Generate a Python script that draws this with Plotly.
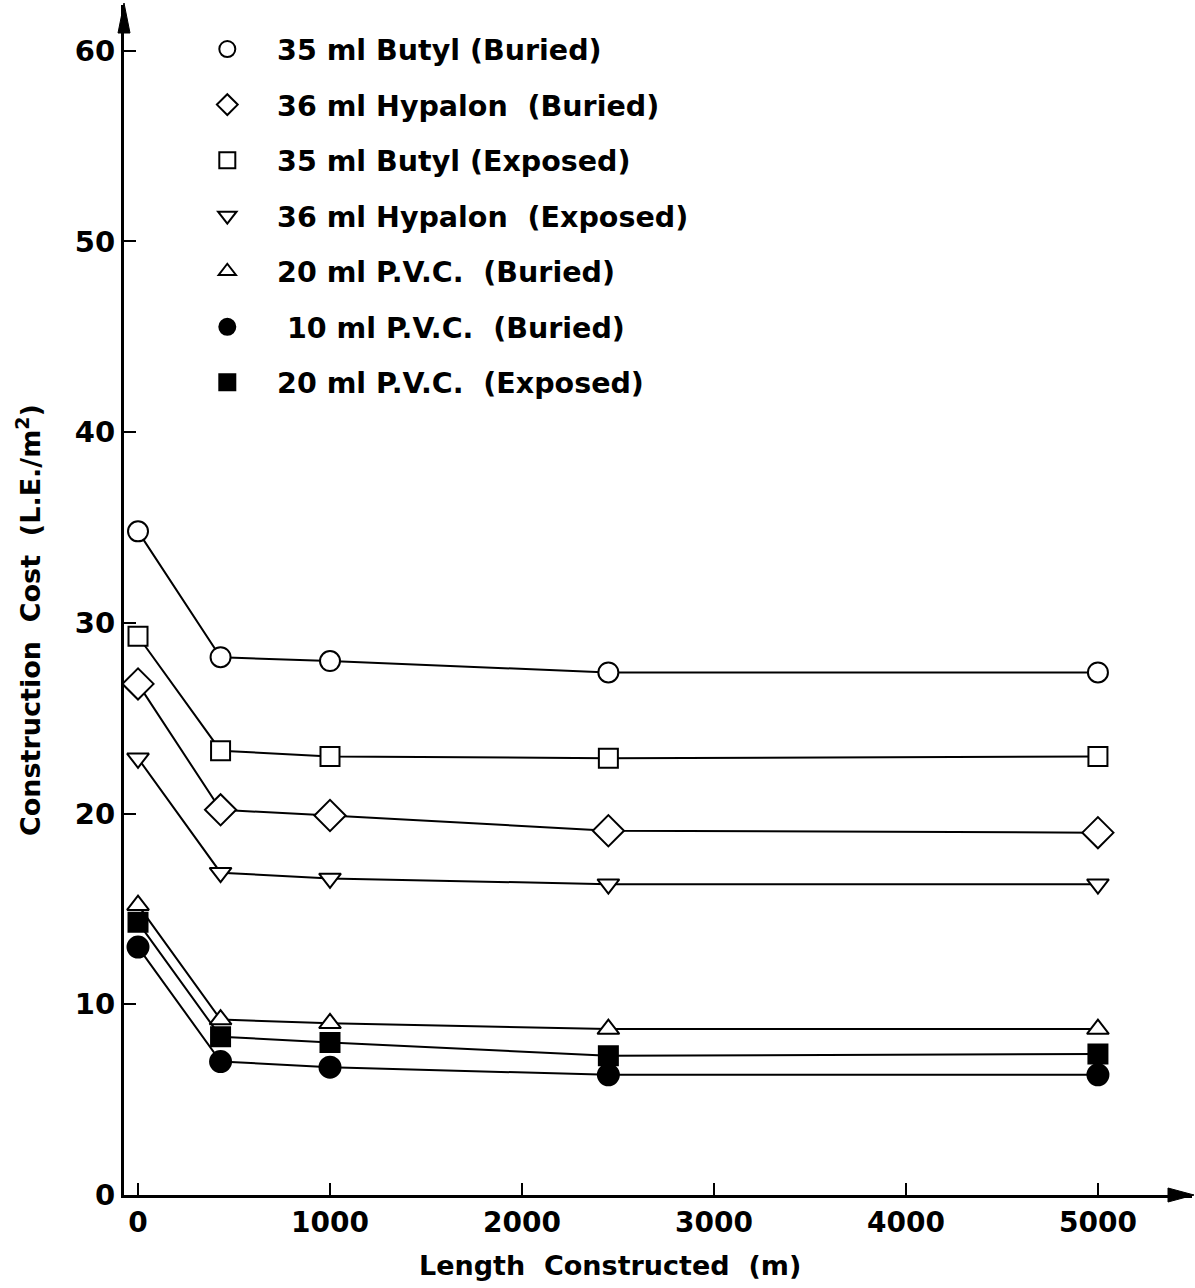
import plotly.graph_objects as go

# Data
lengths = [0, 430, 1000, 2450, 5000]
series_names = [
    "35 ml Butyl (Buried)",
    "36 ml Hypalon\u00a0\u00a0(Buried)",
    "35 ml Butyl (Exposed)",
    "36 ml Hypalon\u00a0\u00a0(Exposed)",
    "20 ml P.V.C.\u00a0\u00a0(Buried)",
    "\u00a010 ml P.V.C.\u00a0\u00a0(Buried)",
    "20 ml P.V.C.\u00a0\u00a0(Exposed)",
]
butyl35_buried = [34.8, 28.2, 28.0, 27.4, 27.4]
hypalon36_buried = [26.8, 20.2, 19.9, 19.1, 19.0]
butyl35_exposed = [29.3, 23.3, 23.0, 22.9, 23.0]
hypalon36_exposed = [22.9, 16.9, 16.6, 16.3, 16.3]
pvc20_buried = [15.2, 9.2, 9.0, 8.7, 8.7]
pvc10_buried = [13.0, 7.0, 6.7, 6.3, 6.3]
pvc20_exposed = [14.3, 8.3, 8.0, 7.3, 7.4]

x_ticks = [0, 1000, 2000, 3000, 4000, 5000]
y_ticks = [0, 10, 20, 30, 40, 50, 60]

series_values = [butyl35_buried, hypalon36_buried, butyl35_exposed, hypalon36_exposed,
                 pvc20_buried, pvc10_buried, pvc20_exposed]
symbols = ["circle", "diamond", "square", "triangle-down", "triangle-up", "circle", "square"]
fills = ["white", "white", "white", "white", "white", "black", "black"]
sizes = [20, 24, 19, 19, 19, 21, 19]
legend_sizes = [16, 19, 16, 16, 15, 18, 16]

FONT = "DejaVu Sans"
PAD = "\u00a0\u00a0\u00a0"
fig = go.Figure()

for name, vals, sym, fc, sz in zip(series_names, series_values, symbols, fills, sizes):
    fig.add_trace(go.Scatter(
        x=lengths, y=vals, mode="lines+markers", showlegend=False,
        line=dict(color="black", width=2),
        marker=dict(symbol=sym, size=sz, color=fc, line=dict(color="black", width=2)),
    ))

for i, (name, sym, fc, ls) in enumerate(zip(series_names, symbols, fills, legend_sizes)):
    fig.add_trace(go.Scatter(
        x=[None], y=[None], mode="markers", name=PAD + name, legendgroup=f"g{i}",
        marker=dict(symbol=sym, size=ls, color=fc, line=dict(color="black", width=2)),
    ))

fig.update_layout(
    width=1195, height=1288,
    margin=dict(l=124, r=3, t=5, b=93),
    paper_bgcolor="white", plot_bgcolor="white",
    font=dict(family=FONT, color="black", size=28, weight="bold"),
    showlegend=True,
    legend=dict(
        x=0.078, y=0.984, xanchor="left", yanchor="top",
        bgcolor="rgba(0,0,0,0)", font=dict(size=28.5, family=FONT, weight="bold"),
        tracegroupgap=15.5, itemsizing="trace",
    ),
    xaxis=dict(
        range=[-73, 5490], tickvals=x_ticks, ticktext=[str(v) for v in x_ticks],
        ticks="inside", ticklen=12, tickwidth=2, tickcolor="black",
        showline=True, linewidth=3, linecolor="black", showgrid=False, zeroline=False,
        tickfont=dict(size=28, family=FONT, weight="bold"),
    ),
    yaxis=dict(
        range=[0, 62.4], tickvals=y_ticks, ticktext=[str(v) for v in y_ticks],
        ticks="inside", ticklen=12, tickwidth=2, tickcolor="black",
        showline=True, linewidth=3, linecolor="black", showgrid=False, zeroline=False,
        tickfont=dict(size=29, family=FONT, weight="bold"),
    ),
    annotations=[
        dict(text="Length\u00a0\u00a0Constructed\u00a0\u00a0(m)", xref="paper", yref="paper",
             x=0.455, y=-0.059, xanchor="center", yanchor="middle", showarrow=False,
             font=dict(size=27, family=FONT, weight="bold")),
        dict(text="Construction\u00a0\u00a0Cost\u00a0\u00a0(L.E./m<sup>2</sup>)", xref="paper", yref="paper",
             x=-0.09, y=0.483, xanchor="center", yanchor="middle", showarrow=False,
             textangle=-90, font=dict(size=27, family=FONT, weight="bold")),
    ],
    shapes=[
        dict(type="path", xref="paper", yref="paper", xsizemode="pixel", ysizemode="pixel",
             xanchor=1, yanchor=0, path="M 2 0 L -24 7 L -24 -7 Z",
             fillcolor="black", line=dict(color="black", width=1)),
        dict(type="path", xref="paper", yref="paper", xsizemode="pixel", ysizemode="pixel",
             xanchor=0, yanchor=1, path="M 0 2 L -6 -28 L 6 -28 Z",
             fillcolor="black", line=dict(color="black", width=1)),
    ],
)

fig.write_html("out.html")
